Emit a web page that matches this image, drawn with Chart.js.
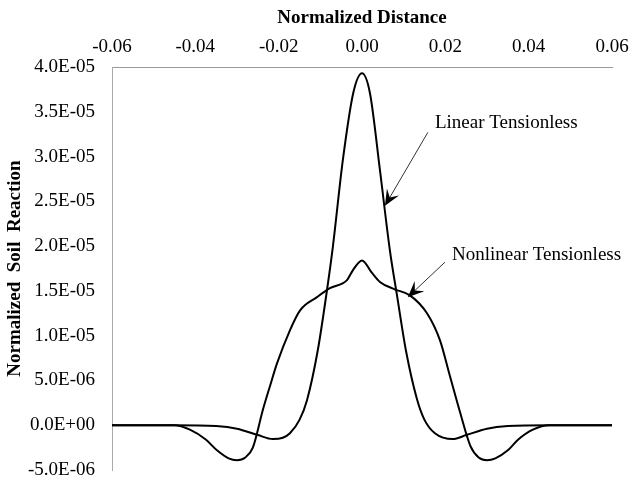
<!DOCTYPE html>
<html>
<head>
<meta charset="utf-8">
<script src="https://cdn.jsdelivr.net/npm/chart.js@4/dist/chart.umd.min.js"></script>
<style>
  html, body { margin: 0; padding: 0; background: #fff; }
  #wrap { width: 633px; height: 481px; }
</style>
</head>
<body>
<div id="wrap"><canvas id="grafica"></canvas></div>
<script>
// datos
var linearX = [-0.06, -0.045, -0.035, -0.030, -0.025, -0.0214, -0.019, -0.0173, -0.015, -0.0132, -0.0106, -0.0084, -0.0070, -0.0046, -0.0021, 0,
    0.0019, 0.0043, 0.0067, 0.0084, 0.0106, 0.0132, 0.015, 0.0175, 0.0218, 0.025, 0.030, 0.035, 0.045, 0.06];
var linearY = [0, 0, -0.1e-6, -0.4e-6, -1.1e-6, -1.55e-6, -1.4e-6, -0.9e-6, 0.6e-6, 2.8e-6, 8.4e-6, 1.51e-5, 1.99e-5, 2.96e-5, 3.71e-5, 3.93e-5,
    3.71e-5, 2.85e-5, 1.95e-5, 1.45e-5, 8.2e-6, 2.9e-6, 0.6e-6, -0.9e-6, -1.55e-6, -1.1e-6, -0.4e-6, -0.1e-6, 0, 0];

var nonlinearX = [-0.06, -0.045, -0.0413, -0.0375, -0.0348, -0.032, -0.030, -0.028, -0.0262, -0.0238, -0.0220, -0.0204, -0.0173, -0.0149, -0.0108, -0.0077, -0.0036, -0.0022, 0,
    0.0024, 0.0043, 0.0077, 0.0115, 0.0156, 0.0187, 0.0211, 0.0235, 0.026, 0.028, 0.030, 0.032, 0.035, 0.0375, 0.041, 0.045, 0.06];
var nonlinearY = [0, 0, -0.5e-6, -1.6e-6, -2.8e-6, -3.7e-6, -3.9e-6, -3.6e-6, -2.5e-6, 1.7e-6, 4.5e-6, 6.9e-6, 1.06e-5, 1.28e-5, 1.43e-5, 1.53e-5, 1.62e-5, 1.73e-5, 1.84e-5,
    1.70e-5, 1.60e-5, 1.52e-5, 1.45e-5, 1.25e-5, 9.5e-6, 5.5e-6, 1.5e-6, -2.3e-6, -3.6e-6, -3.9e-6, -3.7e-6, -2.8e-6, -1.6e-6, -0.5e-6, 0, 0];

var xTicks = [-0.06, -0.04, -0.02, 0, 0.02, 0.04, 0.06];
var yMin = -5e-6, yMax = 4e-5, yStep = 5e-6;

// etiquetas con flecha (en unidades de datos)
var notas = [
    { texto: "Linear Tensionless", tx: 0.0175, ty: 3.37e-5, ax: 0.0158, ay: 3.27e-5, px: 0.0055, py: 2.45e-5 },
    { texto: "Nonlinear Tensionless", tx: 0.0216, ty: 1.90e-5, ax: 0.0199, ay: 1.82e-5, px: 0.011, py: 1.43e-5 }
];

function puntos(xs, ys) {
    var out = [];
    for (var i = 0; i < xs.length; i++) out.push({ x: xs[i], y: ys[i] });
    return out;
}

function formatoE(v) {
    if (Math.abs(v) < 1e-12) v = 0;
    var s = v.toExponential(1).toUpperCase();
    var m = s.match(/^(-?[\d.]+)E([+-])(\d+)$/);
    var exp = m[3].length < 2 ? "0" + m[3] : m[3];
    return m[1] + "E" + m[2] + exp;
}

var fuente = "'Liberation Serif', 'Times New Roman', serif";

var notasPlugin = {
    id: "notas",
    afterDraw: function (chart) {
        var ctx = chart.ctx;
        var xs = chart.scales.x, ys = chart.scales.y;
        ctx.save();
        ctx.font = "19px " + fuente;
        ctx.textBaseline = "middle";
        ctx.textAlign = "left";
        notas.forEach(function (n) {
            ctx.fillStyle = "#000";
            ctx.fillText(n.texto, xs.getPixelForValue(n.tx), ys.getPixelForValue(n.ty));
            var x0 = xs.getPixelForValue(n.ax), y0 = ys.getPixelForValue(n.ay);
            var x1 = xs.getPixelForValue(n.px), y1 = ys.getPixelForValue(n.py);
            var ang = Math.atan2(y1 - y0, x1 - x0);
            var len = 16, w = 7;
            ctx.strokeStyle = "#333";
            ctx.lineWidth = 1;
            ctx.beginPath();
            ctx.moveTo(x0, y0);
            ctx.lineTo(x1 - Math.cos(ang) * 8, y1 - Math.sin(ang) * 8);
            ctx.stroke();
            // punta tipo "stealth"
            var bx = x1 - Math.cos(ang) * len, by = y1 - Math.sin(ang) * len;
            var nx = -Math.sin(ang), ny = Math.cos(ang);
            ctx.beginPath();
            ctx.moveTo(x1, y1);
            ctx.lineTo(bx + nx * w, by + ny * w);
            ctx.lineTo(x1 - Math.cos(ang) * len * 0.6, y1 - Math.sin(ang) * len * 0.6);
            ctx.lineTo(bx - nx * w, by - ny * w);
            ctx.closePath();
            ctx.fill();
        });
        ctx.restore();
    }
};

var grafica = new Chart(document.getElementById("grafica").getContext("2d"), {
    type: "line",
    data: {
        datasets: [
            {
                label: "Linear Tensionless",
                data: puntos(linearX, linearY),
                borderColor: "#000",
                borderWidth: 2,
                pointRadius: 0,
                fill: false,
                cubicInterpolationMode: "monotone"
            },
            {
                label: "Nonlinear Tensionless",
                data: puntos(nonlinearX, nonlinearY),
                borderColor: "#000",
                borderWidth: 2,
                pointRadius: 0,
                fill: false,
                cubicInterpolationMode: "monotone"
            }
        ]
    },
    options: {
        responsive: true,
        maintainAspectRatio: false,
        animation: false,
        layout: { padding: { left: 0, right: 21, top: 0, bottom: 11 } },
        scales: {
            x: {
                type: "linear",
                position: "top",
                min: -0.06,
                max: 0.06,
                afterBuildTicks: function (scale) {
                    scale.ticks = xTicks.map(function (v) { return { value: v }; });
                },
                afterFit: function (scale) {
                    scale.height = 67;
                    scale.paddingLeft = 0;
                    scale.paddingRight = 0;
                },
                ticks: {
                    color: "#000",
                    font: { family: fuente, size: 19 },
                    padding: 9,
                    maxRotation: 0,
                    callback: function (v) { return Math.abs(v) < 1e-9 ? "0.00" : Number(v).toFixed(2); }
                },
                grid: { display: false, drawTicks: false },
                border: { display: true, color: "#999", width: 1 },
                title: {
                    display: true,
                    text: "Normalized Distance",
                    color: "#000",
                    font: { family: fuente, size: 19, weight: "bold" },
                    padding: { top: 7, bottom: 0 }
                }
            },
            y: {
                type: "linear",
                min: yMin,
                max: yMax,
                afterFit: function (scale) {
                    scale.width = 112;
                    scale.paddingTop = 0;
                    scale.paddingBottom = 0;
                },
                ticks: {
                    stepSize: yStep,
                    color: "#000",
                    font: { family: fuente, size: 19 },
                    padding: 17,
                    callback: function (v) { return formatoE(v); }
                },
                grid: { display: false, drawTicks: false },
                border: { display: true, color: "#aaa", width: 1 },
                title: {
                    display: true,
                    text: "Normalized  Soil  Reaction",
                    color: "#000",
                    font: { family: fuente, size: 19, weight: "bold" },
                    padding: { top: 4, bottom: 0 }
                }
            }
        },
        plugins: {
            legend: { display: false },
            tooltip: { enabled: false }
        }
    },
    plugins: [notasPlugin]
});
</script>
</body>
</html>
